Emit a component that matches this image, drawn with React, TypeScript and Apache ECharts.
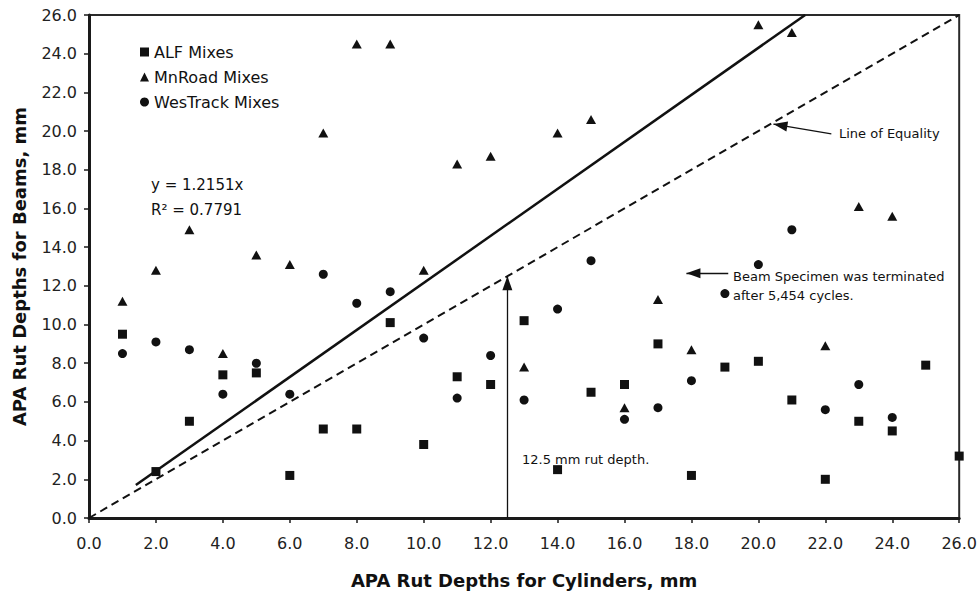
import React, { useEffect, useRef } from "react";
import * as echarts from "echarts";

// Cylinder rut depth (x) and beam rut depth (y), mm, per mix
const alfX = [1, 2, 3, 4, 5, 6, 7, 8, 9, 10, 11, 12, 13, 14, 15, 16, 17, 18, 19, 20, 21, 22, 23, 24, 25, 26];
const alfY = [9.5, 2.4, 5.0, 7.4, 7.5, 2.2, 4.6, 4.6, 10.1, 3.8, 7.3, 6.9, 10.2, 2.5, 6.5, 6.9, 9.0, 2.2, 7.8, 8.1, 6.1, 2.0, 5.0, 4.5, 7.9, 3.2];

const mnroadX = [1, 2, 3, 4, 5, 6, 7, 8, 9, 10, 11, 12, 13, 14, 15, 16, 17, 18, 20, 21, 22, 23, 24];
const mnroadY = [11.2, 12.8, 14.9, 8.5, 13.6, 13.1, 19.9, 24.5, 24.5, 12.8, 18.3, 18.7, 7.8, 19.9, 20.6, 5.7, 11.3, 8.7, 25.5, 25.1, 8.9, 16.1, 15.6];

const westrackX = [1, 2, 3, 4, 5, 6, 7, 8, 9, 10, 11, 12, 13, 14, 15, 16, 17, 18, 19, 20, 21, 22, 23, 24];
const westrackY = [8.5, 9.1, 8.7, 6.4, 8.0, 6.4, 12.6, 11.1, 11.7, 9.3, 6.2, 8.4, 6.1, 10.8, 13.3, 5.1, 5.7, 7.1, 11.6, 13.1, 14.9, 5.6, 6.9, 5.2];

// Regression through the origin
const trendSlope = 1.2151;
const trendR2 = 0.7791;
const trendStartX = 1.4;

// Axis range and the rut-depth reference arrow
const axisMin = 0;
const axisMax = 26;
const axisStep = 2;
const rutDepthLimit = 12.5;

// Callout arrows: [tail, tip] in data units
const equalityArrow = [[22.18, 19.85], [20.45, 20.36]];
const terminatedArrow = [[19.1, 12.65], [17.85, 12.65]];

const FONT = "'DejaVu Sans', 'Liberation Sans', Arial, sans-serif";
const INK = "#111";
const ARROW_LEN = 14;

const zip = (xs: number[], ys: number[]) => xs.map((x, i) => [x, ys[i]]);

export default function App() {
  const ref = useRef<HTMLDivElement>(null);

  useEffect(() => {
    if (!ref.current) return;
    const chart = echarts.init(ref.current, undefined, { renderer: "svg" });

    const axisCommon = {
      type: "value" as const,
      min: axisMin,
      max: axisMax,
      interval: axisStep,
      splitLine: { show: false },
      axisLine: { show: true, lineStyle: { color: "#1a1a1a", width: 3 } },
      axisTick: { show: true, inside: false, length: 5, lineStyle: { color: "#1a1a1a", width: 1.5 } },
      axisLabel: {
        color: "#222",
        fontSize: 16,
        fontFamily: FONT,
        formatter: (v: number) => v.toFixed(1),
      },
      nameLocation: "middle" as const,
      nameTextStyle: { color: INK, fontSize: 18, fontWeight: "bold" as const, fontFamily: FONT },
    };

    const trendEndX = axisMax / trendSlope;
    const txt = (text: string, left: number, top: number, size: number) => ({
      type: "text",
      left,
      top,
      style: { text, fill: INK, fontSize: size, fontFamily: FONT },
    });

    chart.setOption({
      animation: false,
      backgroundColor: "#fff",
      grid: {
        left: 89,
        right: 19,
        top: 15,
        bottom: 72,
        show: true,
        borderColor: "#2a2a2a",
        borderWidth: 2,
        backgroundColor: "transparent",
      },
      xAxis: {
        ...axisCommon,
        name: "APA Rut Depths for Cylinders, mm",
        nameGap: 53,
        axisLabel: { ...axisCommon.axisLabel, margin: 17 },
      },
      yAxis: {
        ...axisCommon,
        name: "APA Rut Depths for Beams, mm",
        nameGap: 61,
        axisLabel: { ...axisCommon.axisLabel, margin: 12 },
      },
      legend: {
        data: ["ALF Mixes", "MnRoad Mixes", "WesTrack Mixes"],
        orient: "vertical",
        left: 135,
        top: 39,
        itemWidth: 9,
        itemHeight: 9,
        itemGap: 9,
        textStyle: { color: INK, fontSize: 16, lineHeight: 16, fontFamily: FONT },
        selectedMode: false,
      },
      series: [
        {
          name: "Line of Equality",
          type: "line",
          data: [
            [axisMin, axisMin],
            [axisMax, axisMax],
          ],
          symbol: "none",
          lineStyle: { color: INK, width: 2, type: [8, 5] },
          silent: true,
          z: 1,
        },
        {
          name: "Trend",
          type: "line",
          data: [
            [trendStartX, trendStartX * trendSlope],
            [trendEndX, axisMax],
          ],
          symbol: "none",
          lineStyle: { color: INK, width: 2.5 },
          silent: true,
          z: 1,
        },
        {
          name: "ALF Mixes",
          type: "scatter",
          data: zip(alfX, alfY),
          symbol: "rect",
          symbolSize: 9,
          itemStyle: { color: INK, opacity: 1 },
          z: 3,
          markLine: {
            silent: true,
            symbol: ["none", "triangle"],
            symbolSize: [10, ARROW_LEN],
            // pull the arrowhead back so its tip sits on the end coordinate
            symbolOffset: [0, [0, ARROW_LEN / 2]],
            label: { show: false },
            lineStyle: { color: INK, width: 1.3, type: "solid", opacity: 1 },
            data: [
              [{ coord: [rutDepthLimit, 0] }, { coord: [rutDepthLimit, rutDepthLimit] }],
              [{ coord: equalityArrow[0] }, { coord: equalityArrow[1] }],
              [{ coord: terminatedArrow[0] }, { coord: terminatedArrow[1] }],
            ],
          },
        },
        {
          name: "MnRoad Mixes",
          type: "scatter",
          data: zip(mnroadX, mnroadY),
          symbol: "triangle",
          symbolSize: [10, 9],
          itemStyle: { color: INK, opacity: 1 },
          z: 3,
        },
        {
          name: "WesTrack Mixes",
          type: "scatter",
          data: zip(westrackX, westrackY),
          symbol: "circle",
          symbolSize: 9,
          itemStyle: { color: INK, opacity: 1 },
          z: 3,
        },
      ],
      graphic: [
        txt("y = " + trendSlope.toFixed(4) + "x", 151, 177, 15),
        txt("R² = " + trendR2.toFixed(4), 151, 202, 15),
        txt("Line of Equality", 839, 127, 13),
        txt("Beam Specimen was terminated", 733, 270, 13),
        txt("after 5,454 cycles.", 733, 289, 13),
        txt("12.5 mm rut depth.", 522, 453, 13),
      ],
    });

    return () => chart.dispose();
  }, []);

  return (
    <div
      ref={ref}
      style={{ position: "fixed", left: 0, top: 0, width: 980, height: 594, background: "#fff" }}
    />
  );
}
